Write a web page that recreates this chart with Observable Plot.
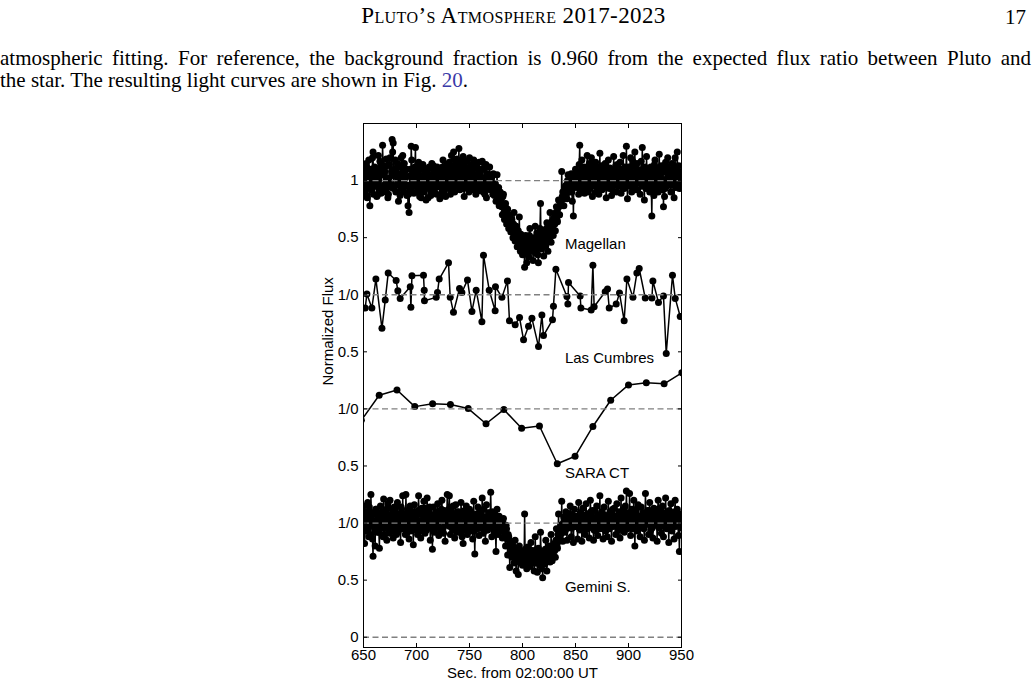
<!DOCTYPE html>
<html><head><meta charset="utf-8">
<script src="https://cdn.jsdelivr.net/npm/d3@7"></script>
<script src="https://cdn.jsdelivr.net/npm/@observablehq/plot@0.6"></script>
<style>
html,body{margin:0;padding:0;background:#fff;}
body{width:1035px;height:687px;position:relative;overflow:hidden;font-family:"Liberation Serif","DejaVu Serif",serif;color:#000;}
#hdr{position:absolute;top:3px;left:0;width:1027px;text-align:center;font-size:23px;letter-spacing:0.4px;font-variant:small-caps;}
#pg{position:absolute;top:5px;right:9px;font-size:21px;}
.ln{position:absolute;left:0;width:1031px;font-size:21px;line-height:22px;}
#l1{top:47px;text-align:justify;text-align-last:justify;}
#l2{top:69px;white-space:nowrap;}
.lnk{color:#3a3aa8;}
#chart{position:absolute;left:290px;top:110px;}
</style>
</head><body>
<div id="hdr">Pluto’s Atmosphere 2017-2023</div>
<div id="pg">17</div>
<div class="ln" id="l1">atmospheric fitting. For reference, the background fraction is 0.960 from the expected flux ratio between Pluto and</div>
<div class="ln" id="l2">the star. The resulting light curves are shown in Fig. <span class="lnk">20</span>.</div>
<div id="chart"></div>
<script>
// ---- axis / label data ----
const xTicks = [650,700,750,800,850,900,950];
const yTickPos = [0,0.5,1,1.5,2,2.5,3,3.5,4];
const yTickLabels = ["0","0.5","1/0","0.5","1/0","0.5","1/0","0.5","1"];
const baselines = [0,1,2,3,4];
const seriesNames = ["Magellan","Las Cumbres","SARA CT","Gemini S."];
const seriesOffsets = [3,2,1,0];
const xLabel = "Sec. from 02:00:00 UT";
const yLabel = "Normalized Flux";

// ---- Magellan: frames at whole seconds from 650 s ----
const magStart = 650, magStep = 1;
const magV = [
0.95,1.08,0.88,1.12,0.98,1.18,0.78,1.05,0.92,1.25,
1.02,0.95,1.10,0.87,1.22,1.04,0.93,1.15,1.31,0.90,
1.08,0.97,1.13,0.85,1.02,1.20,0.94,1.36,1.33,1.10,
1.18,0.96,1.15,0.82,1.05,1.12,0.98,1.22,0.90,1.08,
1.03,0.87,0.78,0.72,1.10,1.30,0.95,1.07,0.99,1.29,
1.05,0.93,1.16,0.86,1.10,0.97,1.14,0.90,1.07,0.83,
1.00,0.85,1.12,0.95,1.05,0.90,1.13,0.98,1.08,0.88,
1.02,1.10,0.84,1.07,0.95,1.18,0.90,1.03,0.97,1.09,
0.93,1.16,0.88,1.22,0.98,1.25,0.90,1.10,1.19,1.03,
1.28,0.92,1.17,0.95,1.21,0.86,1.12,1.00,0.94,1.11,
1.20,0.98,1.13,0.92,1.18,1.05,0.88,1.15,0.97,1.16,
1.08,0.95,1.17,0.90,1.10,1.02,0.85,1.06,0.93,1.12,
0.98,1.03,0.88,0.95,0.92,0.82,1.05,0.86,0.78,0.90,
0.84,0.70,0.88,0.66,0.80,0.62,0.75,0.58,0.70,0.55,
0.66,0.50,0.72,0.47,0.60,0.42,0.56,0.68,0.38,0.50,
0.35,0.46,0.24,0.52,0.28,0.44,0.33,0.58,0.38,0.48,
0.30,0.45,0.60,0.36,0.52,0.28,0.48,0.80,0.40,0.56,
0.34,0.50,0.43,0.63,0.38,0.55,0.72,0.46,0.60,0.52,
0.68,0.56,0.77,0.64,0.83,0.70,0.80,1.08,0.90,0.78,
0.88,0.96,0.84,1.05,0.90,0.98,1.06,0.82,0.69,0.95,
1.10,0.97,1.05,0.88,1.31,1.00,1.18,0.92,1.12,0.95,
1.07,1.22,0.90,1.15,0.98,1.20,0.86,1.10,1.02,1.16,
0.95,1.12,0.88,1.24,1.05,0.92,1.08,0.99,1.15,0.85,
1.03,1.18,0.93,1.10,0.87,1.06,1.21,0.96,1.13,0.90,
1.08,0.97,1.16,0.89,1.05,1.22,0.93,1.11,1.30,0.84,
1.12,0.95,1.20,0.90,1.17,1.02,1.25,0.92,1.15,0.98,
1.06,0.88,1.17,1.29,1.10,0.83,1.02,1.21,0.94,1.08,
0.90,1.12,0.69,1.05,0.87,1.18,0.99,1.10,0.90,1.23,
1.00,1.13,0.92,0.77,0.86,1.16,0.95,1.20,0.98,1.09,
0.90,1.15,1.02,0.85,1.20,0.97,1.25,1.08,0.93,1.05,
1.00];
// ---- Magellan: frames at half seconds from 650.5 s ----
const magStartB = 650.5;
const magVb = [
1.02,0.90,1.15,0.85,1.06,0.93,1.10,0.97,1.20,0.88,
1.12,1.00,0.86,1.08,0.94,1.17,0.89,1.05,1.13,0.96,
0.92,1.19,1.00,0.88,1.14,0.97,1.08,1.25,0.93,1.04,
0.90,1.11,0.98,1.06,0.87,1.20,0.93,1.02,1.15,0.95,
1.10,0.96,0.88,1.04,0.92,1.18,1.01,0.89,1.12,0.97,
0.90,1.08,0.95,1.13,0.85,1.04,0.92,1.10,0.96,1.05,
1.09,0.93,1.03,0.87,1.15,0.97,0.90,1.07,0.94,1.12,
0.95,1.05,0.98,0.88,1.12,0.93,1.08,0.86,1.14,0.99,
1.07,0.96,1.13,1.00,0.91,1.10,1.18,0.95,1.06,1.12,
0.97,1.10,1.02,1.15,0.93,1.08,0.98,1.17,1.04,0.90,
1.06,1.14,0.95,1.10,1.00,0.92,1.12,1.03,0.91,1.05,
0.99,1.10,1.02,0.96,0.88,1.14,0.97,1.00,1.05,0.92,
1.00,0.93,1.06,0.87,0.97,0.90,0.84,0.94,0.80,0.85,
0.77,0.86,0.72,0.78,0.70,0.74,0.64,0.68,0.60,0.65,
0.58,0.62,0.54,0.60,0.48,0.55,0.50,0.45,0.53,0.42,
0.47,0.40,0.50,0.36,0.48,0.42,0.52,0.38,0.46,0.43,
0.50,0.40,0.46,0.54,0.35,0.48,0.58,0.44,0.52,0.47,
0.55,0.45,0.58,0.50,0.62,0.48,0.57,0.64,0.55,0.66,
0.62,0.72,0.66,0.76,0.70,0.82,0.78,0.86,0.84,0.92,
0.95,0.88,1.00,0.93,1.04,0.96,0.90,1.02,0.98,1.06,
0.94,1.08,1.00,1.14,0.92,1.06,0.97,1.10,0.89,1.04,
0.98,1.05,1.12,0.93,1.08,0.95,1.15,0.97,1.06,0.90,
1.10,0.98,1.04,0.92,1.13,1.00,0.94,1.12,0.96,1.07,
0.94,1.05,1.11,0.98,1.02,0.91,1.09,0.99,1.04,1.14,
0.95,1.06,0.99,1.10,0.93,1.03,1.12,0.97,1.05,1.00,
0.96,1.08,1.01,1.13,0.94,1.06,0.98,1.11,0.92,1.04,
1.00,1.09,0.95,1.04,0.98,1.12,0.93,1.06,1.10,0.96,
1.03,0.94,1.08,1.00,1.14,0.92,1.05,0.97,1.11,0.99,
1.06,0.95,1.10,1.01,0.93,1.07,1.12,0.96,1.04,0.99,
1.08,0.96,1.12,1.00,0.94,1.07,0.99,1.13,1.02,0.95];

// ---- Las Cumbres ----
const lcT = [651.6,653.2,657.9,661.7,667.4,670.5,673.3,680.8,682.4,684.6,694.1,694.7,695.7,706.6,707.3,707.5,718.6,719.8,721.4,730.2,731.8,734.9,740.6,742.8,748.1,752.3,756.3,761.7,763.2,768.6,774.2,774.5,780.6,785.8,787.7,793.1,797.2,801.0,805.7,808.9,815.1,818.3,819.8,828.3,829.2,831.5,841.9,842.8,843.4,854.4,855.1,864.8,866.4,867.6,878.0,880.2,881.8,888.4,891.5,895.9,898.5,904.2,907.9,910.1,915.8,922.1,923.0,928.3,933.0,935.6,941.5,944.1,948.8];
const lcV = [0.884,1.006,0.884,1.137,0.706,0.953,1.19,1.125,1.035,0.968,1.07,0.89,1.166,1.17,1.04,0.948,0.977,1.02,1.137,1.28,0.977,0.846,1.055,1.02,1.13,0.854,1.04,0.764,1.346,1.04,0.86,1.07,0.977,1.12,0.773,0.738,0.80,0.605,0.723,0.793,0.546,0.823,0.642,0.78,0.90,1.224,0.985,0.918,1.107,0.99,0.884,0.866,1.259,0.895,1.026,1.05,0.884,0.918,1.015,0.773,1.137,0.977,1.19,1.23,0.971,0.971,1.12,0.933,0.99,0.485,1.17,0.968,0.81];

// ---- SARA CT ----
const saraT = [648.0,664.8,681.6,698.4,715.2,732.0,748.8,765.6,782.4,799.2,816.0,832.8,849.6,866.4,883.2,900.0,916.8,933.6,950.4];
const saraV = [0.90,1.12,1.166,1.02,1.046,1.038,1.003,0.87,0.994,0.83,0.85,0.52,0.585,0.846,1.076,1.21,1.23,1.22,1.317];

// ---- Gemini S.: frames at whole seconds from 650 s ----
const gemStart = 650, gemStep = 1;
const gemV = [
1.15,0.82,1.05,0.95,1.18,0.88,1.10,1.25,0.98,0.71,
1.02,0.80,1.12,0.92,1.08,0.78,1.15,0.96,1.05,1.21,
0.90,1.10,0.85,1.17,0.97,1.20,0.93,1.06,0.87,1.14,
1.00,0.90,1.18,0.95,1.08,0.83,1.12,1.24,0.97,1.05,
1.25,0.92,1.10,0.86,1.15,0.98,1.03,0.81,1.16,0.94,
1.08,0.90,1.24,1.00,0.87,1.13,0.95,1.19,0.91,1.06,
1.22,0.96,1.10,0.85,1.04,0.77,1.14,0.92,1.08,0.98,
1.17,0.89,1.05,0.93,1.20,0.96,1.11,0.84,1.07,1.25,
0.99,1.24,0.90,1.13,0.95,1.06,0.87,1.16,1.02,0.92,
1.10,0.96,1.18,0.88,0.82,1.08,0.94,1.15,0.90,1.04,
1.12,0.93,1.06,0.86,1.19,0.73,1.02,0.95,1.14,0.89,
1.07,0.97,1.22,0.91,1.05,0.84,1.16,0.94,1.09,0.99,
1.27,0.88,1.10,0.93,1.03,0.75,1.12,0.90,1.06,0.95,
0.98,0.87,1.04,0.92,0.80,0.95,0.72,0.88,0.61,0.82,
0.70,0.78,0.65,0.85,0.58,0.74,0.55,0.80,0.66,0.72,
0.63,0.76,1.08,0.68,0.60,0.79,0.70,0.62,0.83,0.67,
0.74,0.58,0.88,0.65,0.57,0.78,0.69,0.92,0.60,0.52,
0.75,0.64,0.85,0.58,0.71,0.80,0.66,0.90,0.67,0.74,
0.82,0.70,0.95,0.78,1.08,0.86,0.98,1.19,0.84,1.05,
0.92,1.10,0.85,1.02,0.96,1.15,0.88,1.07,0.83,1.12,
0.97,1.05,0.86,1.18,0.94,1.09,0.84,1.13,1.00,0.90,
1.17,0.95,1.08,0.87,1.20,0.99,1.11,0.85,1.04,0.93,
1.15,0.89,1.06,1.24,0.96,1.10,0.86,1.14,0.98,1.03,
0.88,1.19,0.95,1.08,0.84,1.12,0.99,1.06,0.90,1.17,
0.94,1.10,0.87,1.22,1.00,1.08,0.92,1.15,1.28,0.95,
1.05,1.26,0.89,1.12,0.97,1.20,0.80,1.09,0.93,1.16,
1.02,0.88,1.14,0.96,1.07,0.85,1.26,0.99,1.11,0.90,
1.18,0.94,1.05,0.87,1.13,1.00,1.09,0.84,1.20,0.96,
1.06,0.91,1.15,0.88,1.02,1.22,0.95,1.10,0.83,1.07,
1.17,0.93,1.04,0.86,1.20,0.98,1.12,0.89,0.75,1.08,
1.00];
// ---- Gemini S.: frames at half seconds from 650.5 s ----
const gemStartB = 650.5;
const gemVb = [
1.02,0.93,1.10,0.97,1.05,1.14,0.90,1.03,0.86,1.08,
0.95,1.12,0.99,1.06,0.92,1.04,0.97,1.10,0.88,1.01,
1.06,0.96,1.13,0.99,0.91,1.07,1.02,0.94,1.11,0.97,
1.09,1.03,0.92,1.06,0.98,1.14,0.95,1.01,1.08,0.90,
1.05,0.97,1.03,1.12,0.93,1.07,0.99,1.10,0.95,1.04,
0.97,1.11,1.02,0.93,1.08,0.96,1.04,0.99,1.13,0.94,
1.05,0.98,1.14,0.96,1.07,1.01,0.93,1.06,0.97,1.10,
1.00,1.08,0.95,1.12,1.03,0.91,1.06,0.98,1.01,1.09,
1.12,0.97,1.07,1.02,1.15,0.94,1.05,0.99,1.10,0.96,
1.03,0.92,1.06,1.00,0.95,1.11,1.02,0.97,1.07,0.94,
1.00,1.09,0.96,1.04,0.93,1.01,1.08,0.98,1.03,1.10,
0.96,1.05,0.99,1.12,0.97,1.02,0.94,1.06,1.00,1.09,
1.04,0.97,1.00,1.08,0.92,1.03,0.96,1.01,0.94,0.99,
0.93,1.00,0.95,0.89,0.98,0.86,0.90,0.80,0.84,0.75,
0.80,0.72,0.76,0.68,0.78,0.70,0.74,0.66,0.73,0.69,
0.75,0.67,0.72,0.78,0.70,0.64,0.74,0.71,0.68,0.76,
0.70,0.65,0.73,0.77,0.68,0.72,0.63,0.75,0.70,0.66,
0.71,0.77,0.68,0.74,0.79,0.70,0.76,0.72,0.80,0.78,
0.76,0.85,0.80,0.90,0.84,0.95,0.91,0.99,0.94,1.02,
1.00,0.95,1.04,0.98,1.08,1.01,0.96,1.05,1.00,0.97,
1.06,0.99,1.03,0.95,1.09,1.01,0.97,1.07,0.94,1.04,
1.00,1.08,0.96,1.03,1.10,0.98,1.05,0.94,1.11,1.02,
0.97,1.06,1.01,0.95,1.09,1.03,0.99,1.07,0.93,1.05,
1.03,0.96,1.10,1.00,1.05,0.97,1.13,1.01,1.06,0.98,
1.04,0.99,1.08,0.96,1.11,1.02,1.06,0.97,1.09,1.03,
0.98,1.07,1.02,0.95,1.10,1.04,0.99,1.12,1.00,1.05,
0.97,1.06,1.01,1.09,0.95,1.03,1.08,0.99,1.04,1.11,
1.00,1.07,0.96,1.02,1.09,0.98,1.05,1.12,1.01,0.97,
1.04,1.10,0.98,1.06,1.00,1.08,0.96,1.03,1.11,1.00,
0.95,1.06,1.01,1.10,0.97,1.04,1.08,0.99,1.03,0.96];

// ---- build table ----
const rows = [];
const addRegular = (name, off, t0, step, vals) => vals.forEach((v,i)=>rows.push({series:name, t:t0+i*step, y:v+off}));
const addListed = (name, off, ts, vals) => vals.forEach((v,i)=>rows.push({series:name, t:ts[i], y:v+off}));
addRegular(seriesNames[0], seriesOffsets[0], magStart, magStep, magV);
addRegular(seriesNames[0], seriesOffsets[0], magStartB, magStep, magVb);
addListed(seriesNames[1], seriesOffsets[1], lcT, lcV);
addListed(seriesNames[2], seriesOffsets[2], saraT, saraV);
addRegular(seriesNames[3], seriesOffsets[3], gemStart, gemStep, gemV);
addRegular(seriesNames[3], seriesOffsets[3], gemStartB, gemStep, gemVb);
rows.sort((a,b)=>a.t-b.t);

const labels = seriesNames.map((n,i)=>({name:n, offset:seriesOffsets[i]}));
const yLab = new Map(yTickPos.map((p,i)=>[p,yTickLabels[i]]));
const labelTime = 840, labelLift = 0.44;

const chart = Plot.plot({
  width:420, height:577, marginLeft:73, marginRight:29, marginTop:13, marginBottom:40,
  style:{fontFamily:"'Liberation Sans', Arial, sans-serif", fontSize:"15px", color:"#000", background:"#fff", overflow:"visible"},
  x:{domain:[650,950]},
  y:{domain:[-0.09,4.5]},
  marks:[
    Plot.line(rows,{x:"t", y:"y", z:"series", stroke:"#000", strokeWidth:1.5, clip:true}),
    Plot.dot(rows,{x:"t", y:"y", r:3.5, fill:"#000", clip:true}),
    Plot.ruleY(baselines,{stroke:"#808080", strokeWidth:1.3, strokeDasharray:"6,3.5"}),
    Plot.text(labels,{x:()=>labelTime, y:d=>d.offset+labelLift, text:"name", textAnchor:"start", fontSize:15}),
    Plot.frame({stroke:"#000", strokeWidth:1}),
    Plot.axisX(xTicks,{anchor:"bottom", tickSize:0, tickPadding:2, label:null, tickFormat:d=>String(d)}),
    Plot.axisX(xTicks,{anchor:"bottom", tickSize:4, fill:"none", label:null, dy:-4}),
    Plot.axisX(xTicks,{anchor:"top", tickSize:4, fill:"none", label:null, dy:4}),
    Plot.axisY(yTickPos,{anchor:"left", tickSize:0, tickPadding:5, label:null, tickFormat:d=>yLab.get(d)}),
    Plot.axisY(yTickPos,{anchor:"left", tickSize:4, fill:"none", label:null, dx:4}),
    Plot.axisY(yTickPos,{anchor:"right", tickSize:4, fill:"none", label:null, dx:-4}),
    Plot.text([yLabel],{frameAnchor:"left", dx:-35, rotate:-90, fontSize:15}),
    Plot.text([xLabel],{frameAnchor:"bottom", dy:30, fontSize:15})
  ]
});
document.getElementById("chart").appendChild(chart);
</script>
</body></html>
